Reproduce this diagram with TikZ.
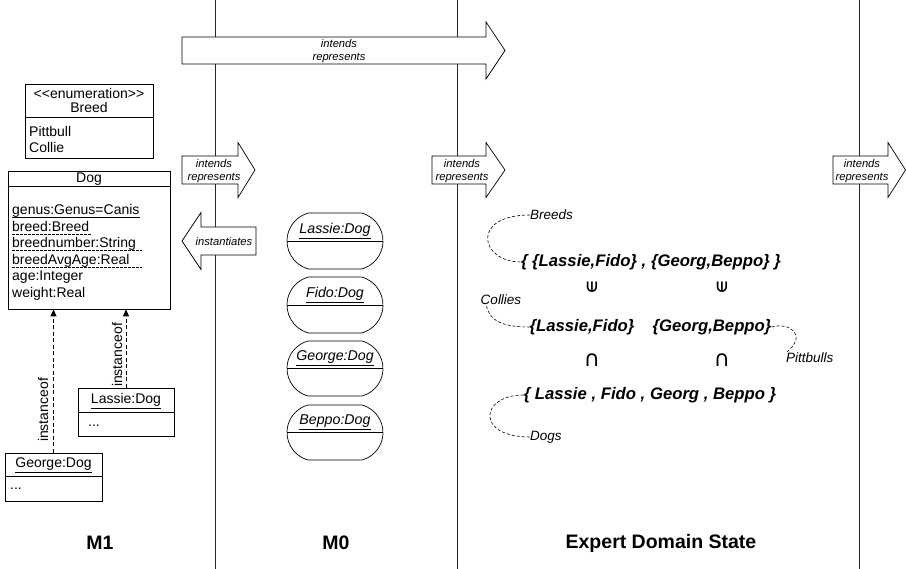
\documentclass[tikz,border=0pt]{standalone}
\usepackage{fontspec}
\setmainfont{Liberation Sans}
\newfontfamily\symfont{DejaVu Sans}
\usetikzlibrary{arrows.meta,shapes.misc}
\tikzset{
  lane/.style={line width=0.8pt, draw=black!85},
  blk/.style={draw, fill=white, line width=0.7pt, line join=miter},
  arrtxt/.style={font=\fontsize{11.2}{12.5}\selectfont\itshape, align=center, inner sep=0},
  uml/.style={font=\fontsize{14}{16.5}\selectfont, inner sep=0},
  box/.style={draw, fill=white, line width=0.7pt, inner sep=0},
  obj/.style={draw, fill=white, line width=0.7pt, rounded rectangle, rounded rectangle arc length=150, minimum width=96, minimum height=56, inner sep=0},
  objtxt/.style={font=\fontsize{14.2}{16}\selectfont\itshape, inner sep=0},
  dashu/.style={dash pattern=on 2.5pt off 1.5pt, line width=0.6pt},
  solidu/.style={line width=0.6pt},
  instof/.style={dash pattern=on 4pt off 2.5pt, line width=0.7pt, -{Triangle[length=7pt,width=6pt]}},
  setx/.style={font=\fontsize{16.7}{19}\selectfont\bfseries\itshape, inner sep=0},
  lbl/.style={font=\fontsize{13.5}{15}\selectfont\itshape, inner sep=0},
  curve/.style={dash pattern=on 3pt off 2pt, line width=0.6pt},
  elem/.style={font=\fontsize{14}{16}\selectfont\symfont\bfseries, inner sep=0, rotate=90},
  subs/.style={font=\fontsize{22}{24}\selectfont\symfont, inner sep=0},
  ttl/.style={font=\fontsize{19.5}{22}\selectfont\bfseries, inner sep=0},
}
\newcommand\rblock[6]{\draw[blk] (#1,#4-#5) -- (#2,#4-#5) -- (#2,#4-#6) -- (#3,#4) -- (#2,#4+#6) -- (#2,#4+#5) -- (#1,#4+#5) -- cycle;}
\begin{document}
\begin{tikzpicture}[x=1pt,y=-1pt]
\useasboundingbox (0,0) rectangle (906,569);
% lanes
\coordinate (l1t) at (215,0); \coordinate (l1b) at (215,569);
\coordinate (l2t) at (457,0); \coordinate (l2b) at (457,569);
\coordinate (l3t) at (859,0); \coordinate (l3b) at (859,569);
\draw[lane] (l1t) -- (l1b);
\draw[lane] (l2t) -- (l2b);
\draw[lane] (l3t) -- (l3b);
% block arrows
\rblock{182}{486}{505}{50.5}{13.5}{28.5}
\node[arrtxt] (t0) at (339,51) {intends\\represents};
\rblock{182}{238}{255}{170}{14}{27.5}
\node[arrtxt] (t1) at (214,171) {intends\\represents};
\rblock{432}{486}{505}{170}{14}{27.5}
\node[arrtxt] (t2) at (462,171) {intends\\represents};
\rblock{833}{888}{905.5}{170}{14}{27.5}
\node[arrtxt] (t3) at (862,171) {intends\\represents};
\rblock{256}{201}{182}{241}{14}{28.5}
\node[arrtxt] (t4) at (224,241.5) {instantiates};
% enumeration
\node[box, minimum width=128, minimum height=74] (enum) at (89,121) {};
\draw[line width=0.7pt] (enum.north west) ++(0,34) -- ++(128,0);
\node[uml] (enst) at (89,93) {<{}<enumeration>{}>};
\node[uml] (enn) at (89,107.5) {Breed};
\node[uml, anchor=base west] (e1) at (29,136.5) {Pittbull};
\node[uml, anchor=base west] (e2) at (29,152.5) {Collie};
% Dog class
\node[box, minimum width=162, minimum height=138] (dog) at (89,240) {};
\draw[line width=0.7pt] (dog.north west) ++(0,16) -- ++(162,0);
\node[uml] (dogn) at (89,179) {Dog};
\node[uml, anchor=base west] (a1) at (12,215) {genus:Genus=Canis};
\node[uml, anchor=base west] (a2) at (12,231.5) {breed:Breed};
\node[uml, anchor=base west] (a3) at (12,248) {breednumber:String};
\node[uml, anchor=base west] (a4) at (12,264.5) {breedAvgAge:Real};
\node[uml, anchor=base west] (a5) at (12,281) {age:Integer};
\node[uml, anchor=base west] (a6) at (12,297.5) {weight:Real};
\draw[solidu] ([yshift=-2.5pt]a1.base west) -- ([yshift=-2.5pt]a1.base east);
\draw[dashu] ([yshift=-2.5pt]a2.base west) -- ++(80,0);
\draw[dashu] ([yshift=-2.5pt]a3.base west) -- ++(130,0);
\draw[dashu] ([yshift=-2.5pt]a4.base west) -- ++(130,0);
% instances M1
\node[box, minimum width=96, minimum height=48] (lassie) at (126,412) {};
\draw[line width=0.7pt] (lassie.north west) ++(0,25) -- ++(96,0);
\node[uml] (lassn) at (126,401) {\underline{Lassie:Dog}};
\node[uml, anchor=west] (lassd) at (88,426) {...};
\node[box, minimum width=97, minimum height=48] (george) at (53.5,477) {};
\draw[line width=0.7pt] (george.north west) ++(0,24) -- ++(97,0);
\node[uml] (georn) at (53.5,465.5) {\underline{George:Dog}};
\node[uml, anchor=west] (geord) at (10,489) {...};
\draw[instof] (george.north) -- (george.north |- dog.south);
\draw[instof] (lassie.north) -- (lassie.north |- dog.south);
\node[uml, rotate=90] (io1) at (43,410) {instanceof};
\node[uml, rotate=90] (io2) at (117,355) {instanceof};
% M0 objects
\node[obj] (o1) at (335,241) {};
\node[obj] (o2) at (335,305) {};
\node[obj, minimum height=55] (o3) at (335,368.5) {};
\node[obj, minimum height=55] (o4) at (335,432.5) {};
\foreach \o in {o1,o2,o3,o4} {\draw[line width=0.7pt] (\o.west) -- (\o.east);}
\node[objtxt] (o1t) at (335,231) {\underline{Lassie:Dog}};
\node[objtxt] (o2t) at (335,295) {\underline{Fido:Dog}};
\node[objtxt] (o3t) at (335,358.5) {\underline{George:Dog}};
\node[objtxt] (o4t) at (335,422.5) {\underline{Beppo:Dog}};
% Expert domain
\node[setx] (s1) at (651,262) {\{ \{Lassie,Fido\} , \{Georg,Beppo\} \}};
\node[lbl, anchor=west] (breeds) at (530,215) {Breeds};
\node[elem] (in1) at (592,287) {∈};
\node[elem] (in2) at (722,287) {∈};
\node[lbl] (coll) at (501,300) {Collies};
\node[setx] (s2) at (582,327) {\{Lassie,Fido\}};
\node[setx] (s3) at (712,327) {\{Georg,Beppo\}};
\node[lbl, anchor=west] (pitt) at (786,358) {Pittbulls};
\node[subs] (sub1) at (592,360) {∩};
\node[subs] (sub2) at (722,360) {∩};
\node[setx] (s4) at (650,395) {\{ Lassie , Fido , Georg , Beppo \}};
\node[lbl, anchor=west] (dogs) at (530,437) {Dogs};
\draw[curve] (breeds.west) .. controls (470,215) and (480,262) .. (s1.west);
\draw[curve] (coll.south west) ++(6,1) .. controls (490,322) and (505,327) .. (s2.west);
\draw[curve] (s3.east) .. controls (790,322) and (808,335) .. (pitt.north west) ;
\draw[curve] (s4.west) .. controls (480,395) and (475,437) .. (dogs.west);
% titles
\node[ttl] (m1) at (100,543) {M1};
\node[ttl] (m0) at (336,543) {M0};
\node[ttl] (eds) at (661,543) {Expert Domain State};
\end{tikzpicture}
\end{document}
